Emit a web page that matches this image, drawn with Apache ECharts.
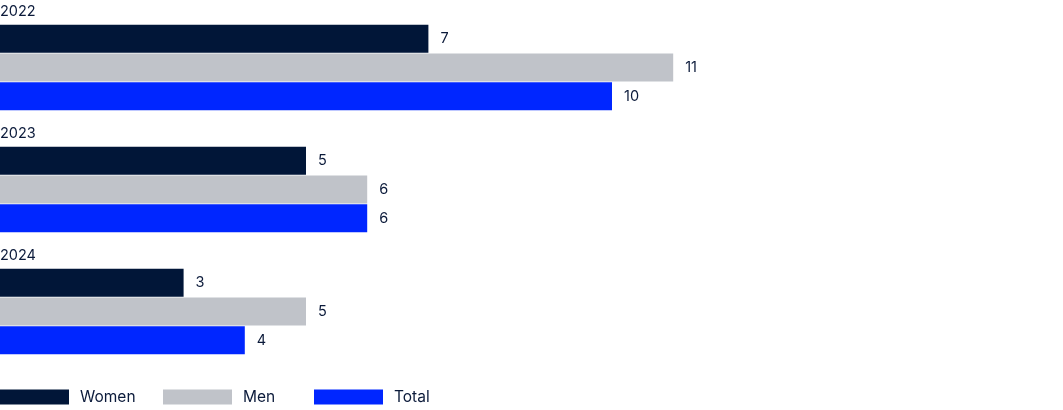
<!DOCTYPE html>
<html>
<head>
<meta charset="utf-8">
<script src="https://cdn.jsdelivr.net/npm/echarts@6/dist/echarts.min.js"></script>
<style>html,body{margin:0;padding:0;background:#fff}#c{width:1063px;height:410px}</style>
</head>
<body>
<div id="c"></div>
<script>
var years = ['2022', '2023', '2024'];
var women = [7, 5, 3];
var men = [11, 6, 5];
var total = [10, 6, 4];
var seriesNames = ['Women', 'Men', 'Total'];
var colors = ['#011638', '#c0c3c9', '#0026ff'];
var textColor = '#0b1a3a';
var font = 'Inter, "Noto Sans", sans-serif';
var legendLefts = [0, 163, 314];

var chart = echarts.init(document.getElementById('c'));
function mk(name, data, color) {
  return {
    name: name, type: 'bar', data: data, barWidth: 28, barGap: '3%',
    itemStyle: { color: color },
    label: { show: true, position: 'right', distance: 12, color: textColor, fontSize: 14.5, fontFamily: font },
    animation: false
  };
}
chart.setOption({
  animation: false,
  grid: { left: 0, top: 6.5, width: 918, height: 366, containLabel: false, outerBoundsMode: 'none' },
  xAxis: { type: 'value', min: 0, max: 15, show: false },
  yAxis: {
    type: 'category', data: years, inverse: true,
    axisLine: { show: false }, axisTick: { show: false }, splitLine: { show: false },
    axisLabel: {
      inside: true, margin: 0, align: 'left', verticalAlign: 'bottom',
      padding: [0, 0, 48, 0], color: textColor, fontSize: 14.5, fontFamily: font
    }
  },
  legend: seriesNames.map(function (n, i) {
    return {
      left: legendLefts[i], top: 389, padding: 0, icon: 'rect', itemWidth: 69, itemHeight: 15,
      selectedMode: false,
      textStyle: { color: textColor, fontSize: 15.5, fontFamily: font, padding: [1, 0, 0, 6] },
      data: [n]
    };
  }),
  series: [mk(seriesNames[0], women, colors[0]), mk(seriesNames[1], men, colors[1]), mk(seriesNames[2], total, colors[2])]
});
</script>
</body>
</html>
